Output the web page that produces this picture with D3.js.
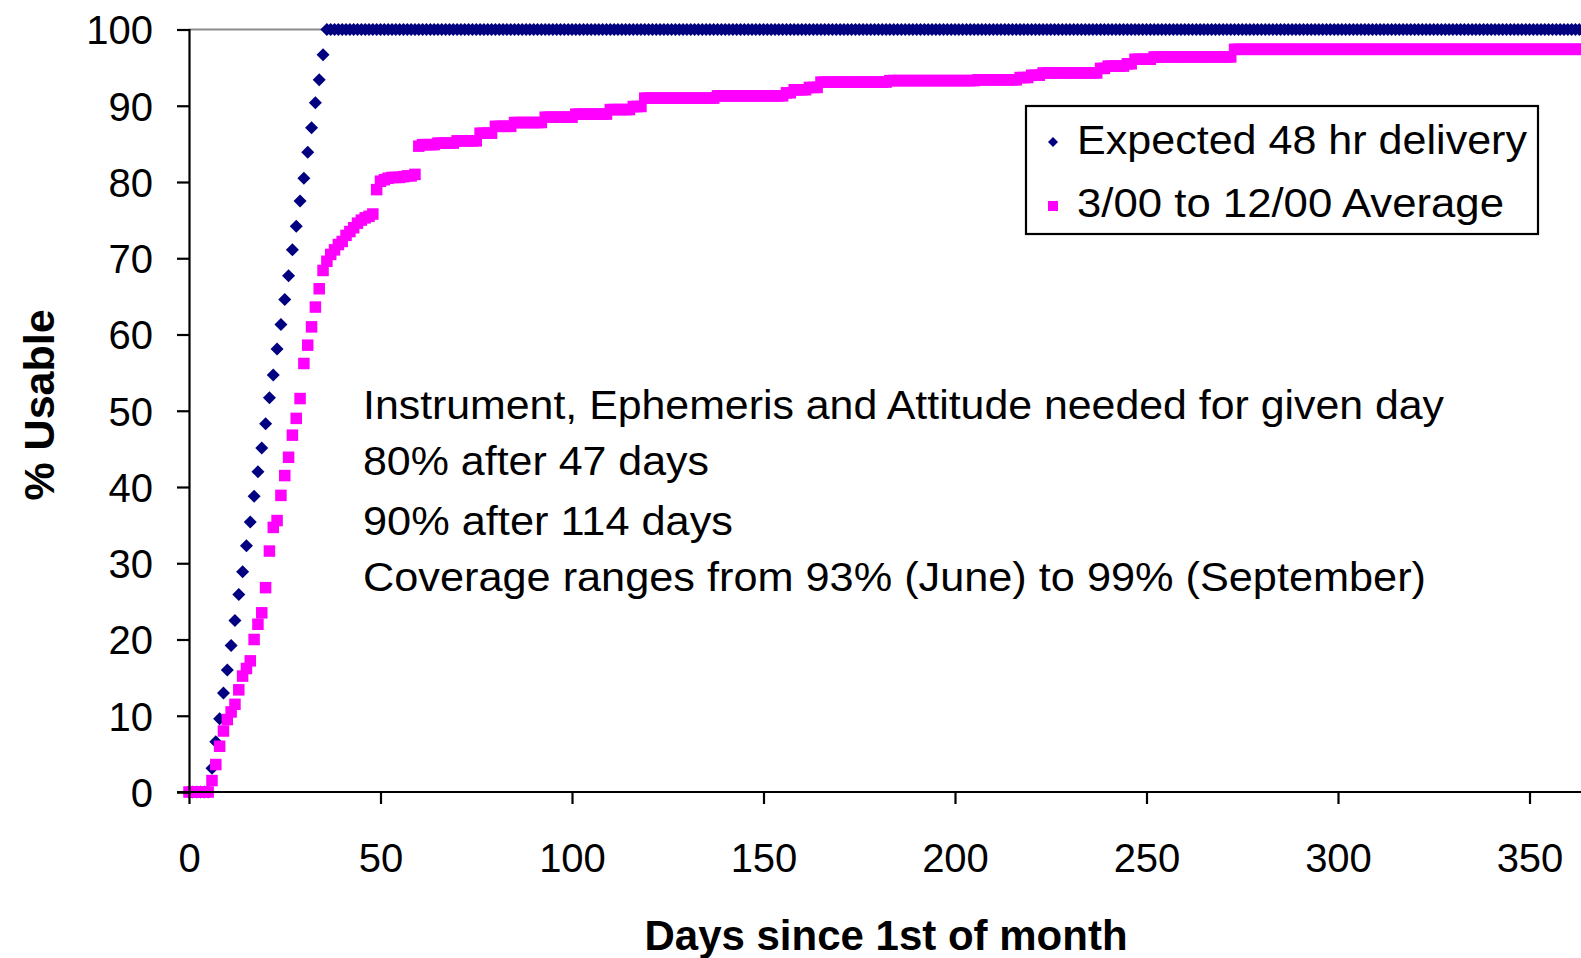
<!DOCTYPE html>
<html>
<head>
<meta charset="utf-8">
<script src="https://cdn.jsdelivr.net/npm/d3@7"></script>
<style>
  html, body { margin: 0; padding: 0; background: #ffffff; }
  svg { display: block; }
  text { font-family: "Liberation Sans", Arial, "DejaVu Sans", sans-serif; fill: #000; }
</style>
</head>
<body>
<svg id="chart" width="1581" height="958"></svg>
<script>
// ---------- data ----------
const xTicks = [0, 50, 100, 150, 200, 250, 300, 350];
const yTicks = [0, 10, 20, 30, 40, 50, 60, 70, 80, 90, 100];
const seriesNames = ["Expected 48 hr delivery", "3/00 to 12/00 Average"];
const seriesColors = ["#000080", "#FF00FF"];

// % usable, one value per day since 1st of month (day 0 .. 365)
const expected48hr = [
  0, 0, 0, 0, 0, 0,
  3.1, 6.6, 9.6, 13.0, 16.0, 19.2, 22.5, 25.9, 28.9, 32.3,
  35.4, 38.8, 42.0, 45.1, 48.3, 51.7, 54.7, 58.1, 61.3, 64.6,
  67.7, 71.1, 74.2, 77.5, 80.5, 83.9, 87.1, 90.4, 93.4, 96.7,
  100,100,100,100,100,100,100,100,100,100,
  100,100,100,100,100,100,100,100,100,100,
  100,100,100,100,100,100,100,100,100,100,
  100,100,100,100,100,100,100,100,100,100,
  100,100,100,100,100,100,100,100,100,100,
  100,100,100,100,100,100,100,100,100,100,
  100,100,100,100,100,100,100,100,100,100,
  100,100,100,100,100,100,100,100,100,100,
  100,100,100,100,100,100,100,100,100,100,
  100,100,100,100,100,100,100,100,100,100,
  100,100,100,100,100,100,100,100,100,100,
  100,100,100,100,100,100,100,100,100,100,
  100,100,100,100,100,100,100,100,100,100,
  100,100,100,100,100,100,100,100,100,100,
  100,100,100,100,100,100,100,100,100,100,
  100,100,100,100,100,100,100,100,100,100,
  100,100,100,100,100,100,100,100,100,100,
  100,100,100,100,100,100,100,100,100,100,
  100,100,100,100,100,100,100,100,100,100,
  100,100,100,100,100,100,100,100,100,100,
  100,100,100,100,100,100,100,100,100,100,
  100,100,100,100,100,100,100,100,100,100,
  100,100,100,100,100,100,100,100,100,100,
  100,100,100,100,100,100,100,100,100,100,
  100,100,100,100,100,100,100,100,100,100,
  100,100,100,100,100,100,100,100,100,100,
  100,100,100,100,100,100,100,100,100,100,
  100,100,100,100,100,100,100,100,100,100,
  100,100,100,100,100,100,100,100,100,100,
  100,100,100,100,100,100,100,100,100,100,
  100,100,100,100,100,100,100,100,100,100,
  100,100,100,100,100,100,100,100,100,100,
  100,100,100,100,100,100,100,100,100,100
];

const average300to1200 = [
  0, 0, 0, 0, 0, 0, 1.5, 3.6, 6.0, 8.0,
  9.5, 10.5, 11.5, 13.4, 15.2, 16.2, 17.2, 20.0, 22.0, 23.5,
  26.8, 31.6, 34.7, 35.6, 38.9, 41.5, 43.9, 46.8, 49.0, 51.6,
  56.2, 58.6, 61.0, 63.6, 66.0, 68.4, 69.6, 70.5, 71.1, 71.8,
  72.2, 73.0, 73.5, 74.0, 74.6, 75.0, 75.3, 75.5, 75.8, 79.0,
  80.1, 80.3, 80.5, 80.6, 80.6, 80.6, 80.7, 80.8, 80.8, 81.0,
  84.7, 84.9, 84.9, 84.9, 84.9, 85.1, 85.1, 85.1, 85.1, 85.1,
  85.4, 85.4, 85.4, 85.4, 85.4, 85.4, 86.4, 86.4, 86.4, 86.4,
  87.3, 87.3, 87.3, 87.3, 87.3, 87.8, 87.8, 87.8, 87.8, 87.8,
  87.8, 87.8, 87.8, 88.5, 88.5, 88.5, 88.5, 88.5, 88.5, 88.5,
  88.5, 88.9, 88.9, 88.9, 88.9, 88.9, 88.9, 88.9, 88.9, 88.9,
  89.5, 89.5, 89.5, 89.5, 89.5, 89.5, 89.9, 89.9, 89.9, 91.0,
  91.0, 91.0, 91.0, 91.0, 91.0, 91.0, 91.0, 91.0, 91.0, 91.0,
  91.0, 91.0, 91.0, 91.0, 91.0, 91.0, 91.0, 91.0, 91.3, 91.3,
  91.3, 91.3, 91.3, 91.3, 91.3, 91.3, 91.3, 91.3, 91.3, 91.3,
  91.3, 91.3, 91.3, 91.3, 91.3, 91.3, 91.7, 91.7, 92.1, 92.1,
  92.1, 92.1, 92.4, 92.4, 92.4, 93.1, 93.1, 93.1, 93.1, 93.1,
  93.1, 93.1, 93.1, 93.1, 93.1, 93.1, 93.1, 93.1, 93.1, 93.1,
  93.1, 93.1, 93.1, 93.3, 93.3, 93.3, 93.3, 93.3, 93.3, 93.3,
  93.3, 93.3, 93.3, 93.3, 93.3, 93.3, 93.3, 93.3, 93.3, 93.3,
  93.3, 93.3, 93.3, 93.3, 93.3, 93.3, 93.4, 93.4, 93.4, 93.4,
  93.4, 93.4, 93.4, 93.4, 93.4, 93.4, 93.4, 93.7, 93.7, 93.7,
  94.0, 94.0, 94.0, 94.3, 94.3, 94.3, 94.3, 94.3, 94.3, 94.3,
  94.3, 94.3, 94.3, 94.3, 94.3, 94.3, 94.3, 94.3, 94.9, 94.9,
  95.2, 95.2, 95.2, 95.2, 95.2, 95.5, 95.5, 96.1, 96.1, 96.1,
  96.1, 96.1, 96.4, 96.4, 96.4, 96.4, 96.4, 96.4, 96.4, 96.4,
  96.4, 96.4, 96.4, 96.4, 96.4, 96.4, 96.4, 96.4, 96.4, 96.4,
  96.4, 96.4, 96.4, 97.4, 97.4, 97.4, 97.4, 97.4, 97.4, 97.4,
  97.4, 97.4, 97.4, 97.4, 97.4, 97.4, 97.4, 97.4, 97.4, 97.4,
  97.4, 97.4, 97.4, 97.4, 97.4, 97.4, 97.4, 97.4, 97.4, 97.4,
  97.4, 97.4, 97.4, 97.4, 97.4, 97.4, 97.4, 97.4, 97.4, 97.4,
  97.4, 97.4, 97.4, 97.4, 97.4, 97.4, 97.4, 97.4, 97.4, 97.4,
  97.4, 97.4, 97.4, 97.4, 97.4, 97.4, 97.4, 97.4, 97.4, 97.4,
  97.4, 97.4, 97.4, 97.4, 97.4, 97.4, 97.4, 97.4, 97.4, 97.4,
  97.4, 97.4, 97.4, 97.4, 97.4, 97.4, 97.4, 97.4, 97.4, 97.4,
  97.4, 97.4, 97.4, 97.4, 97.4, 97.4, 97.4, 97.4, 97.4, 97.4,
  97.4, 97.4, 97.4, 97.4, 97.4, 97.4
];

const annotationLines = [
  "Instrument, Ephemeris and Attitude needed for given day",
  "80% after 47 days",
  "90% after 114 days",
  "Coverage ranges from 93% (June) to 99% (September)"
];
const xTitle = "Days since 1st of month";
const yTitle = "% Usable";

// ---------- layout ----------
const svg = d3.select("#chart");
svg.append("rect").attr("width", 1581).attr("height", 958).attr("fill", "#fff");

const x0 = 189, pxPerDay = 3.83;
const yBottom = 792, yTop = 29.5;
const x = d3.scaleLinear().domain([0, 350]).range([x0, x0 + 350 * pxPerDay]);
const y = d3.scaleLinear().domain([0, 100]).range([yBottom, yTop]);

// plot area top border (grey)
svg.append("line")
  .attr("x1", x0).attr("x2", 1581)
  .attr("y1", y(100)).attr("y2", y(100))
  .attr("stroke", "#8c8c8c").attr("stroke-width", 2);

// annotations
const annW = [1081, 346, 370, 1063];
const annBase = [419, 475, 535, 591];
annotationLines.forEach((t, i) => {
  svg.append("text")
    .attr("x", 363).attr("y", annBase[i])
    .attr("font-size", 40)
    .attr("textLength", annW[i]).attr("lengthAdjust", "spacingAndGlyphs")
    .text(t);
});

// series
const days0 = d3.range(expected48hr.length);
const diamond = "M0,-6.5L6.5,0L0,6.5L-6.5,0Z";

svg.append("g").selectAll("path")
  .data(days0)
  .join("path")
  .attr("d", diamond)
  .attr("transform", d => `translate(${x(d)},${y(expected48hr[d])})`)
  .attr("fill", seriesColors[0]);

const sq = 11.5;
svg.append("g").selectAll("rect")
  .data(d3.range(average300to1200.length))
  .join("rect")
  .attr("x", d => x(d) - sq / 2)
  .attr("y", d => y(average300to1200[d]) - sq / 2)
  .attr("width", sq).attr("height", sq)
  .attr("fill", seriesColors[1]);

// axes
const yAxis = d3.axisLeft(y).tickValues(yTicks).tickSize(12).tickPadding(24).tickFormat(d3.format("d"));
const gy = svg.append("g").attr("transform", `translate(${x0},0)`).call(yAxis);
gy.select(".domain").attr("stroke", "#000").attr("stroke-width", 2.2);
gy.selectAll(".tick line").attr("stroke", "#000").attr("stroke-width", 2.2);
gy.selectAll(".tick text").attr("font-size", 40).attr("fill", "#000")
  .attr("font-family", '"Liberation Sans", Arial, sans-serif').attr("dy", "0.36em");

const xAxis = d3.axisBottom(x).tickValues(xTicks).tickSize(12).tickPadding(40).tickFormat(d3.format("d"));
const gx = svg.append("g").attr("transform", `translate(0,${yBottom})`).call(xAxis);
gx.select(".domain").remove();
gx.append("line").attr("x1", x0 - 12).attr("x2", 1581).attr("y1", 0).attr("y2", 0)
  .attr("stroke", "#000").attr("stroke-width", 2.2);
gx.selectAll(".tick line").attr("stroke", "#000").attr("stroke-width", 2.2);
gx.selectAll(".tick text").attr("font-size", 40).attr("fill", "#000")
  .attr("font-family", '"Liberation Sans", Arial, sans-serif');

// axis titles
svg.append("text")
  .attr("x", 886).attr("y", 950)
  .attr("text-anchor", "middle")
  .attr("font-size", 42).attr("font-weight", "bold")
  .text(xTitle);

svg.append("text")
  .attr("transform", "translate(54,405) rotate(-90)")
  .attr("text-anchor", "middle")
  .attr("font-size", 43).attr("font-weight", "bold")
  .text(yTitle);

// legend
const lg = svg.append("g");
lg.append("rect")
  .attr("x", 1026).attr("y", 106).attr("width", 512).attr("height", 128)
  .attr("fill", "#fff").attr("stroke", "#000").attr("stroke-width", 2.2);
lg.append("path").attr("d", "M0,-5L5,0L0,5L-5,0Z")
  .attr("transform", "translate(1053,142)").attr("fill", seriesColors[0]);
lg.append("rect").attr("x", 1048).attr("y", 201).attr("width", 10).attr("height", 10)
  .attr("fill", seriesColors[1]);
const legW = [450, 427];
const legBase = [154, 217];
seriesNames.forEach((n, i) => {
  lg.append("text")
    .attr("x", 1077).attr("y", legBase[i])
    .attr("font-size", 40)
    .attr("textLength", legW[i]).attr("lengthAdjust", "spacingAndGlyphs")
    .text(n);
});
</script>
</body>
</html>
